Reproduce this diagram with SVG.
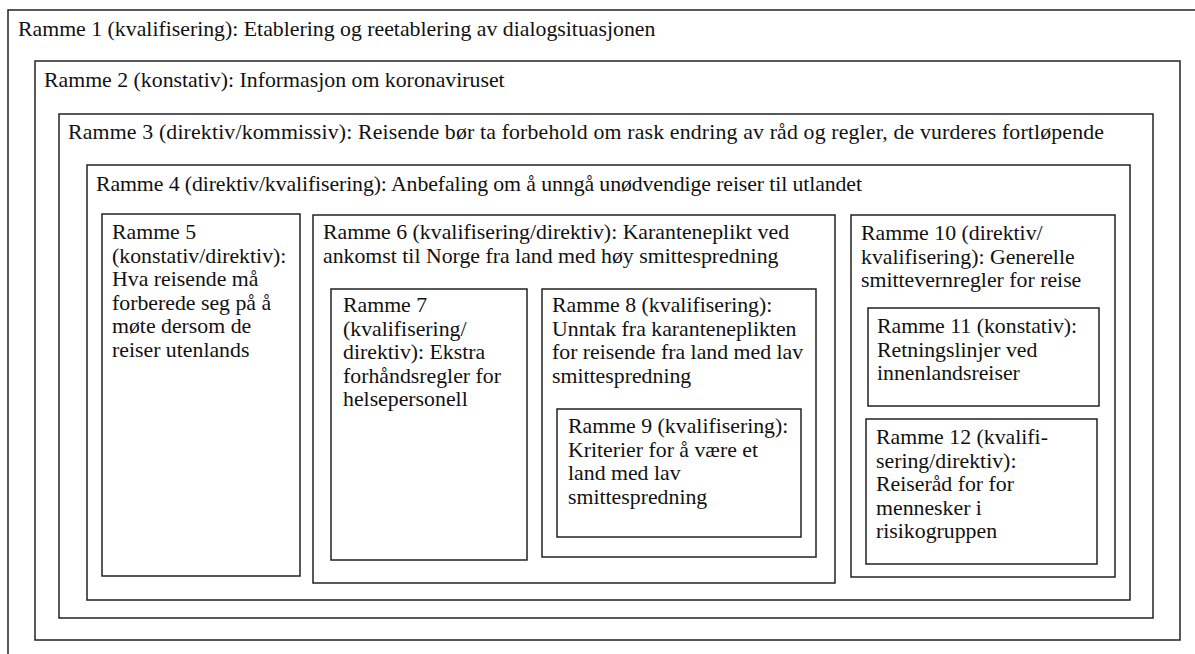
<svg xmlns="http://www.w3.org/2000/svg" width="1195" height="654" viewBox="0 0 1195 654">
<style>
rect.f{fill:none;stroke:#222;stroke-width:1.5}
text{font-family:"Liberation Serif","Times New Roman",serif;font-size:21.8px;fill:#111}
</style>
<rect x="0" y="0" width="1195" height="654" fill="#fff"/>
<g id="r1"><rect class="f" x="8" y="10" width="1200" height="660"/><text x="18" y="36">Ramme 1 (kvalifisering): Etablering og reetablering av dialogsituasjonen</text></g>
<g id="r2"><rect class="f" x="35" y="61" width="1145" height="579"/><text x="44" y="87">Ramme 2 (konstativ): Informasjon om koronaviruset</text></g>
<g id="r3"><rect class="f" x="59" y="114" width="1094" height="504"/><text x="68" y="139" textLength="1036" lengthAdjust="spacing">Ramme 3 (direktiv/kommissiv): Reisende bør ta forbehold om rask endring av råd og regler, de vurderes fortløpende</text></g>
<g id="r4"><rect class="f" x="87" y="165" width="1043" height="435"/><text x="96" y="191" textLength="766" lengthAdjust="spacing">Ramme 4 (direktiv/kvalifisering): Anbefaling om å unngå unødvendige reiser til utlandet</text></g>
<g id="r5"><rect class="f" x="102" y="214" width="198" height="362"/><text x="112" y="239"><tspan x="112">Ramme 5</tspan><tspan x="112" dy="23.5">(konstativ/direktiv):</tspan><tspan x="112" dy="23.5">Hva reisende må</tspan><tspan x="112" dy="23.5">forberede seg på å</tspan><tspan x="112" dy="23.5">møte dersom de</tspan><tspan x="112" dy="23.5">reiser utenlands</tspan></text></g>
<g id="r6"><rect class="f" x="313" y="215" width="522" height="368"/><text x="323" y="239"><tspan x="323">Ramme 6 (kvalifisering/direktiv): Karanteneplikt ved</tspan><tspan x="323" dy="23.5">ankomst til Norge fra land med høy smittespredning</tspan></text></g>
<g id="r7"><rect class="f" x="331" y="289" width="196" height="271"/><text x="343" y="312"><tspan x="343">Ramme 7</tspan><tspan x="343" dy="23.5">(kvalifisering/</tspan><tspan x="343" dy="23.5">direktiv): Ekstra</tspan><tspan x="343" dy="23.5">forhåndsregler for</tspan><tspan x="343" dy="23.5">helsepersonell</tspan></text></g>
<g id="r8"><rect class="f" x="542" y="289" width="274" height="268"/><text x="552" y="312"><tspan x="552">Ramme 8 (kvalifisering):</tspan><tspan x="552" dy="23.5">Unntak fra karanteneplikten</tspan><tspan x="552" dy="23.5">for reisende fra land med lav</tspan><tspan x="552" dy="23.5">smittespredning</tspan></text></g>
<g id="r9"><rect class="f" x="557" y="409" width="244" height="128"/><text x="568" y="433"><tspan x="568">Ramme 9 (kvalifisering):</tspan><tspan x="568" dy="23.5">Kriterier for å være et</tspan><tspan x="568" dy="23.5">land med lav</tspan><tspan x="568" dy="23.5">smittespredning</tspan></text></g>
<g id="r10"><rect class="f" x="851" y="215" width="264" height="362"/><text x="861" y="240"><tspan x="861">Ramme 10 (direktiv/</tspan><tspan x="861" dy="23.5">kvalifisering): Generelle</tspan><tspan x="861" dy="23.5">smittevernregler for reise</tspan></text></g>
<g id="r11"><rect class="f" x="868" y="308" width="231" height="98"/><text x="877" y="333"><tspan x="877">Ramme 11 (konstativ):</tspan><tspan x="877" dy="23.5">Retningslinjer ved</tspan><tspan x="877" dy="23.5">innenlandsreiser</tspan></text></g>
<g id="r12"><rect class="f" x="866" y="419" width="231" height="145"/><text x="876" y="444"><tspan x="876">Ramme 12 (kvalifi-</tspan><tspan x="876" dy="23.5">sering/direktiv):</tspan><tspan x="876" dy="23.5">Reiseråd for for</tspan><tspan x="876" dy="23.5">mennesker i</tspan><tspan x="876" dy="23.5">risikogruppen</tspan></text></g>
<g id="connectors"/>
</svg>
